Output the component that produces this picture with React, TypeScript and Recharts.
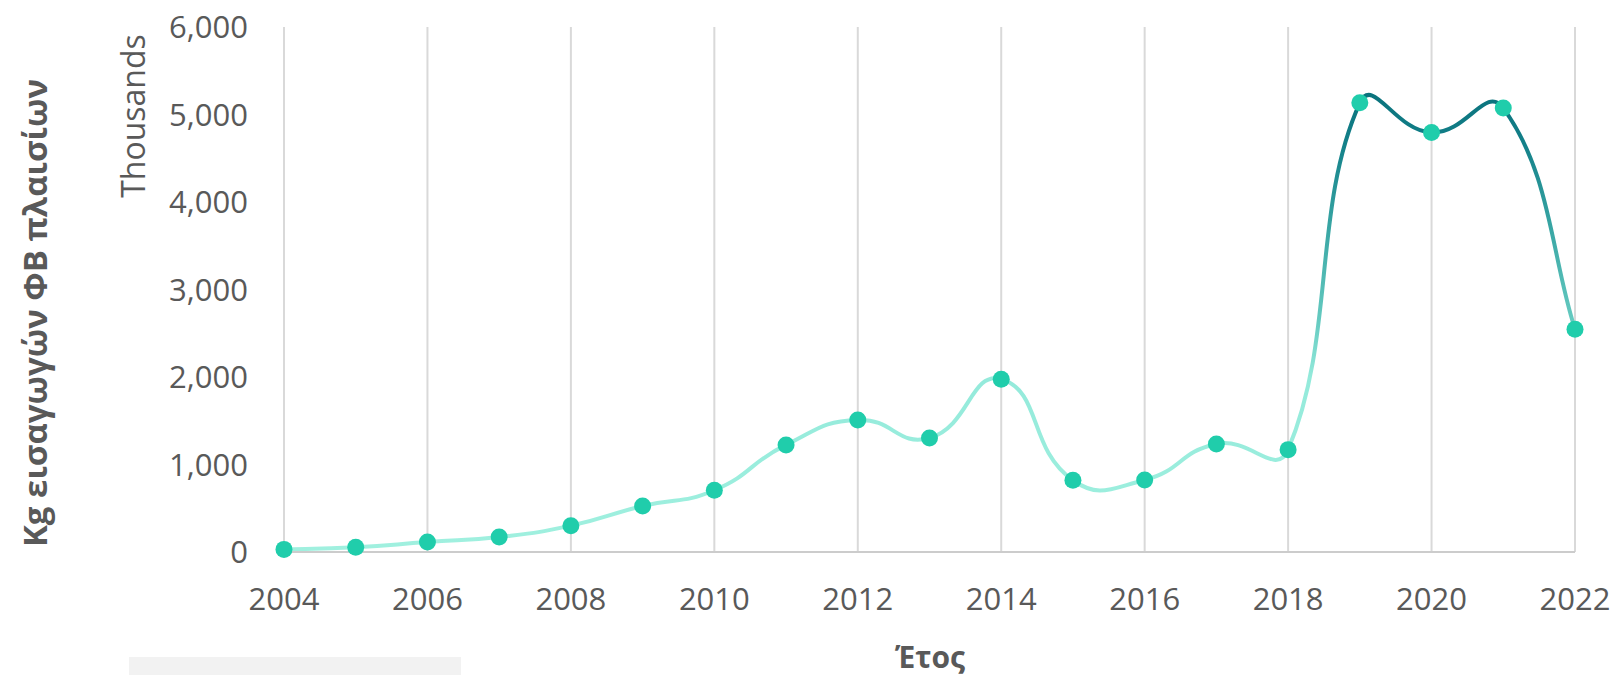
import React from "react";
import { LineChart, Line, XAxis, YAxis, CartesianGrid } from "recharts";

const years = [
  2004, 2005, 2006, 2007, 2008, 2009, 2010, 2011, 2012, 2013, 2014, 2015, 2016,
  2017, 2018, 2019, 2020, 2021, 2022,
];
// Kg of PV frame imports, in thousands
const imports = [
  30, 54, 114, 172, 301, 526, 706, 1224, 1509, 1303, 1975, 820, 823, 1235, 1170,
  5133, 4794, 5073, 2546,
];
const xTicks = [2004, 2006, 2008, 2010, 2012, 2014, 2016, 2018, 2020, 2022];
const yTicks = [0, 1000, 2000, 3000, 4000, 5000, 6000];

const data = years.map((year, i) => ({ year, value: imports[i] }));

const FONT = "'Open Sans', 'Noto Sans', sans-serif";
const TEXT = "#595959";

// Excel-like smoothed line: tangents split by neighbouring chord lengths
function excelSmooth(context: any) {
  let pts: [number, number][] = [];
  const T = 0.5;
  const dist = (a: [number, number], b: [number, number]) =>
    Math.hypot(b[0] - a[0], b[1] - a[1]);
  return {
    areaStart() {},
    areaEnd() {},
    lineStart() {
      pts = [];
    },
    lineEnd() {
      const n = pts.length;
      if (!n) return;
      context.moveTo(pts[0][0], pts[0][1]);
      for (let i = 0; i < n - 1; i++) {
        const p0 = pts[Math.max(i - 1, 0)];
        const p1 = pts[i];
        const p2 = pts[i + 1];
        const p3 = pts[Math.min(i + 2, n - 1)];
        const a1 = dist(p0, p1);
        const b1 = dist(p1, p2);
        const k1 = a1 + b1 > 0 ? Math.min((T * b1) / (a1 + b1), 1 / 3) : 0;
        const a2 = dist(p1, p2);
        const b2 = dist(p2, p3);
        const k2 = a2 + b2 > 0 ? Math.min((T * a2) / (a2 + b2), 1 / 3) : 0;
        context.bezierCurveTo(
          p1[0] + (p2[0] - p0[0]) * k1,
          p1[1] + (p2[1] - p0[1]) * k1,
          p2[0] - (p3[0] - p1[0]) * k2,
          p2[1] - (p3[1] - p1[1]) * k2,
          p2[0],
          p2[1]
        );
      }
    },
    point(x: number, y: number) {
      pts.push([x, y]);
    },
  };
}

export default function App() {
  return (
    <div style={{ position: "absolute", left: 0, top: 0, width: 1616, height: 675, background: "#fff" }}>
      <LineChart
        width={1616}
        height={675}
        data={data}
        margin={{ top: 27, right: 41, bottom: 93, left: 164 }}
      >
        <defs>
          <linearGradient id="lineGrad" x1="0" y1="0" x2="0" y2="1">
            <stop offset="0" stopColor="#0b737d" />
            <stop offset="0.1" stopColor="#127f88" />
            <stop offset="0.3" stopColor="#3aa7a5" />
            <stop offset="0.5" stopColor="#66cbc1" />
            <stop offset="0.62" stopColor="#94eadb" />
            <stop offset="1" stopColor="#a0f0df" />
          </linearGradient>
        </defs>
        <CartesianGrid vertical horizontal={false} stroke="#d9d9d9" strokeWidth={2} />
        <XAxis
          dataKey="year"
          type="number"
          domain={[2004, 2022]}
          ticks={xTicks}
          tickLine={false}
          tickSize={0}
          tickMargin={36}
          axisLine={{ stroke: "#cccccc", strokeWidth: 2 }}
          tick={{ fontSize: 31, fill: TEXT, fontFamily: FONT }}
        />
        <YAxis
          width={120}
          domain={[0, 6000]}
          ticks={yTicks}
          tickLine={false}
          tickSize={0}
          tickMargin={36}
          axisLine={false}
          tickFormatter={(v: number) => v.toLocaleString("en-US")}
          tick={{ fontSize: 31, fill: TEXT, fontFamily: FONT }}
        />
        <Line
          dataKey="value"
          type={excelSmooth as any}
          stroke="url(#lineGrad)"
          strokeWidth={4}
          dot={{ r: 8.5, fill: "#20cdab", stroke: "none", fillOpacity: 1 }}
          activeDot={false}
          isAnimationActive={false}
        />
      </LineChart>
      <div
        style={{
          position: "absolute",
          left: 34,
          top: 313,
          transform: "translate(-50%, -50%) rotate(-90deg)",
          whiteSpace: "nowrap",
          fontFamily: FONT,
          fontWeight: 700,
          fontSize: 33,
          color: TEXT,
        }}
      >
        Kg εισαγωγών ΦΒ πλαισίων
      </div>
      <div
        style={{
          position: "absolute",
          left: 132,
          top: 116,
          transform: "translate(-50%, -50%) rotate(-90deg)",
          whiteSpace: "nowrap",
          fontFamily: FONT,
          fontSize: 32,
          color: TEXT,
        }}
      >
        Thousands
      </div>
      <div
        style={{
          position: "absolute",
          left: 930,
          top: 656,
          transform: "translate(-50%, -50%)",
          whiteSpace: "nowrap",
          fontFamily: FONT,
          fontWeight: 700,
          fontSize: 30,
          color: TEXT,
        }}
      >
        Έτος
      </div>
      <div
        style={{ position: "absolute", left: 129, top: 657, width: 332, height: 18, background: "#f2f2f2" }}
      />
    </div>
  );
}
